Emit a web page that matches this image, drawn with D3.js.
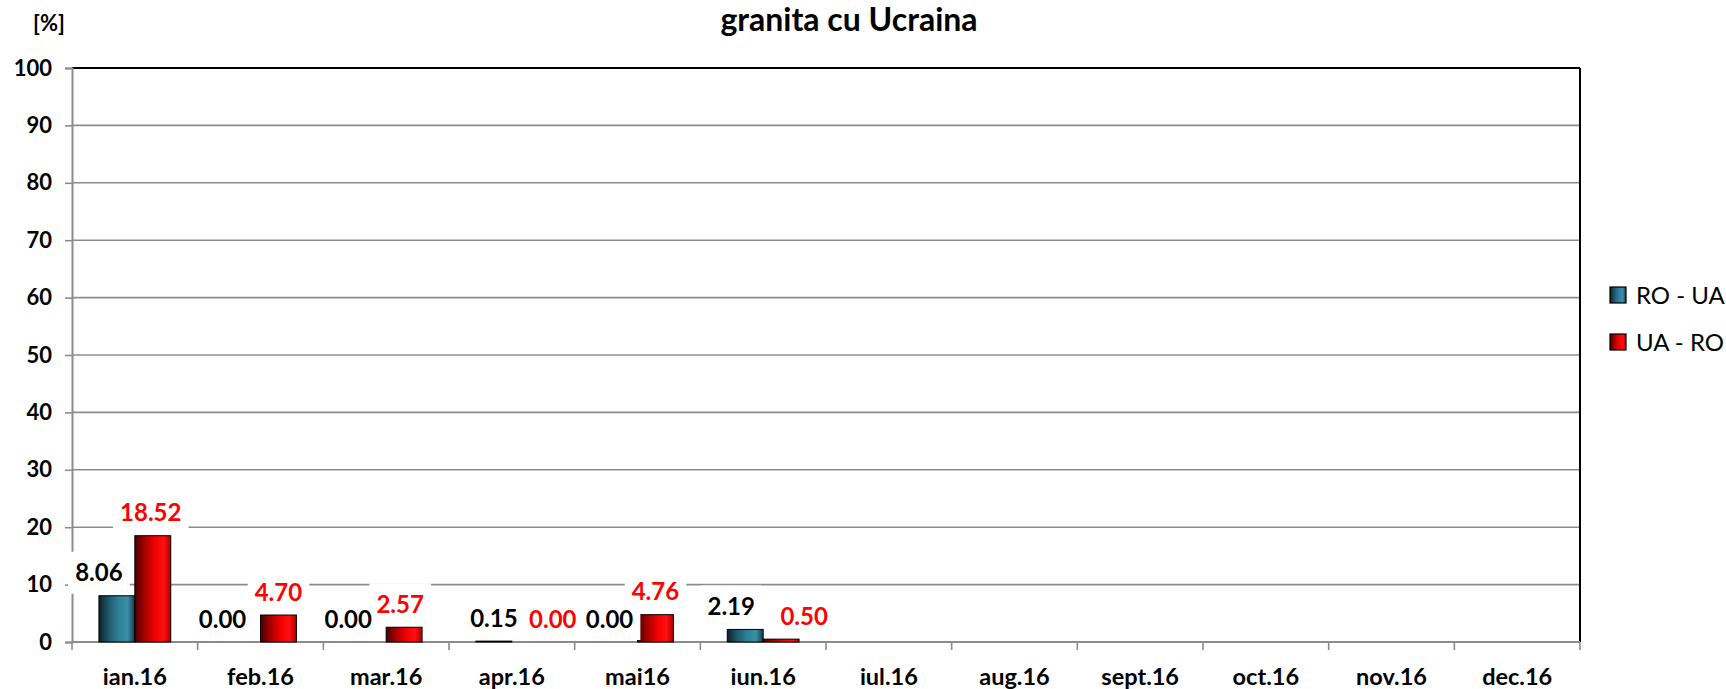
<!DOCTYPE html>
<html>
<head>
<meta charset="utf-8">
<script src="https://cdn.jsdelivr.net/npm/d3@7"></script>
<style>
  html, body { margin: 0; padding: 0; background: #fff; }
  svg { display: block; font-family: Lato, "Open Sans", sans-serif; }
</style>
</head>
<body>
<svg id="chart" width="1726" height="689"></svg>
<script>
// ---- data ----
const categories = ["ian.16", "feb.16", "mar.16", "apr.16", "mai16", "iun.16",
                    "iul.16", "aug.16", "sept.16", "oct.16", "nov.16", "dec.16"];
const seriesNames = ["RO - UA", "UA - RO"];
const roUa = [8.06, 0.00, 0.00, 0.15, 0.00, 2.19, null, null, null, null, null, null];
const uaRo = [18.52, 4.70, 2.57, 0.00, 4.76, 0.50, null, null, null, null, null, null];
const yTicks = [0, 10, 20, 30, 40, 50, 60, 70, 80, 90, 100];
const titleText = "granita cu Ucraina";
const unitText = "[%]";
// label nudges (horizontal, px) as placed in the original
const labelNudgeRoUa = [-18, -20, -20, 0, -10, -14, 0, 0, 0, 0, 0, 0];
const labelNudgeUaRo = [-2, 0, -4, 23, 0, 23, 0, 0, 0, 0, 0, 0];

// ---- layout ----
const svg = d3.select("#chart");
const plot = { left: 72, right: 1580, top: 68, bottom: 642 };

const x0 = d3.scaleBand().domain(categories).range([plot.left, plot.right]).padding(0);
const x1 = d3.scaleBand().domain(seriesNames).range([0, x0.bandwidth()])
  .paddingInner(0).paddingOuter(0.75);
const y = d3.scaleLinear().domain([0, 100]).range([plot.bottom, plot.top]);

// gradients
const defs = svg.append("defs");
function grad(id, stops) {
  const g = defs.append("linearGradient").attr("id", id)
    .attr("x1", "0%").attr("x2", "100%").attr("y1", "0%").attr("y2", "0%");
  stops.forEach(s => g.append("stop").attr("offset", s[0]).attr("stop-color", s[1]));
}
grad("gTeal", [["0%", "#0b1f26"], ["25%", "#1d5566"], ["55%", "#2f8097"], ["80%", "#3a8ea6"], ["100%", "#163a46"]]);
grad("gRed", [["0%", "#4a0000"], ["25%", "#a00000"], ["55%", "#f00000"], ["80%", "#ff1010"], ["100%", "#b00000"]]);
const fills = { "RO - UA": "url(#gTeal)", "UA - RO": "url(#gRed)" };
const labelColors = { "RO - UA": "#000000", "UA - RO": "#ff0000" };

// gridlines
svg.append("g").selectAll("line").data(yTicks.filter(t => t > 0 && t < 100)).join("line")
  .attr("x1", plot.left).attr("x2", plot.right)
  .attr("y1", d => y(d)).attr("y2", d => y(d))
  .attr("stroke", "#8c8c8c").attr("stroke-width", 1.6);

// top and right border
svg.append("line").attr("x1", plot.left).attr("x2", plot.right)
  .attr("y1", y(100)).attr("y2", y(100)).attr("stroke", "#000").attr("stroke-width", 2);
svg.append("line").attr("x1", plot.right).attr("x2", plot.right)
  .attr("y1", plot.top).attr("y2", plot.bottom).attr("stroke", "#000").attr("stroke-width", 2);

// y axis
const yAxis = d3.axisLeft(y).tickValues(yTicks).tickSize(7).tickPadding(13).tickFormat(d3.format("d"));
const gy = svg.append("g").attr("transform", `translate(${plot.left},0)`).call(yAxis);
gy.select(".domain").attr("stroke", "#8c8c8c").attr("stroke-width", 2);
gy.selectAll(".tick line").attr("stroke", "#8c8c8c").attr("stroke-width", 1.6);
gy.selectAll(".tick text").attr("font-size", 22).attr("font-weight", 700)
  .attr("fill", "#000").attr("font-family", "Lato, sans-serif");

// x axis (ticks at band edges)
const gx = svg.append("g").attr("transform", `translate(0,${plot.bottom})`);
gx.append("line").attr("x1", plot.left).attr("x2", plot.right).attr("y1", 0).attr("y2", 0)
  .attr("stroke", "#8c8c8c").attr("stroke-width", 2);
const edges = categories.map(c => x0(c)).concat([plot.right]);
gx.selectAll("line.tk").data(edges).join("line").attr("class", "tk")
  .attr("x1", d => d).attr("x2", d => d).attr("y1", 0).attr("y2", 8)
  .attr("stroke", "#8c8c8c").attr("stroke-width", 1.6);
gx.selectAll("text").data(categories).join("text")
  .attr("x", d => x0(d) + x0.bandwidth() / 2).attr("y", 43)
  .attr("text-anchor", "middle").attr("font-size", 23.5).attr("font-weight", 700)
  .attr("fill", "#000").text(d => d);

// bars
const rows = categories.map((c, i) => ({ c, i, vals: [
  { s: seriesNames[0], v: roUa[i], dx: labelNudgeRoUa[i] },
  { s: seriesNames[1], v: uaRo[i], dx: labelNudgeUaRo[i] }] }));

const groups = svg.append("g").selectAll("g").data(rows).join("g")
  .attr("transform", d => `translate(${x0(d.c)},0)`);
groups.selectAll("rect").data(d => d.vals.filter(v => v.v !== null && v.v > 0)).join("rect")
  .attr("x", d => x1(d.s)).attr("width", x1.bandwidth())
  .attr("y", d => y(d.v)).attr("height", d => y(0) - y(d.v))
  .attr("fill", d => fills[d.s]).attr("stroke", "#000").attr("stroke-width", 1);

// data labels with white boxes (boxes layer first, then texts layer)
const labelData = rows.flatMap(r => r.vals.filter(v => v.v !== null).map(v => ({
  ...v, cx: x0(r.c) + x1(v.s) + x1.bandwidth() / 2 + v.dx, cy: y(v.v) - 23 })));
const boxLayer = svg.append("g");
const textLayer = svg.append("g");
const texts = textLayer.selectAll("text").data(labelData).join("text")
  .attr("x", d => d.cx).attr("y", d => d.cy).attr("dy", "0.36em")
  .attr("text-anchor", "middle").attr("font-size", 24).attr("font-weight", 700)
  .attr("fill", d => labelColors[d.s]).text(d => d.v.toFixed(2));
texts.each(function (d) {
  const bb = this.getBBox();
  boxLayer.append("rect")
    .attr("x", bb.x - 7).attr("width", bb.width + 14)
    .attr("y", d.cy - 21).attr("height", 42).attr("fill", "#fff");
});

// title and unit
svg.append("text").attr("x", 849).attr("y", 31).attr("text-anchor", "middle")
  .attr("font-size", 32).attr("font-weight", 700).attr("fill", "#000").text(titleText);
svg.append("text").attr("x", 33).attr("y", 31).attr("font-size", 22).attr("font-weight", 700)
  .attr("fill", "#000").text(unitText);

// legend
const leg = svg.append("g").selectAll("g").data(seriesNames).join("g")
  .attr("transform", (d, i) => `translate(1610,${287 + i * 47})`);
leg.append("rect").attr("width", 16).attr("height", 16)
  .attr("fill", d => fills[d]).attr("stroke", "#000").attr("stroke-width", 1.2);
leg.append("text").attr("x", 26).attr("y", 8).attr("dy", "0.36em")
  .attr("font-size", 24).attr("fill", "#000").text(d => d);
</script>
</body>
</html>
